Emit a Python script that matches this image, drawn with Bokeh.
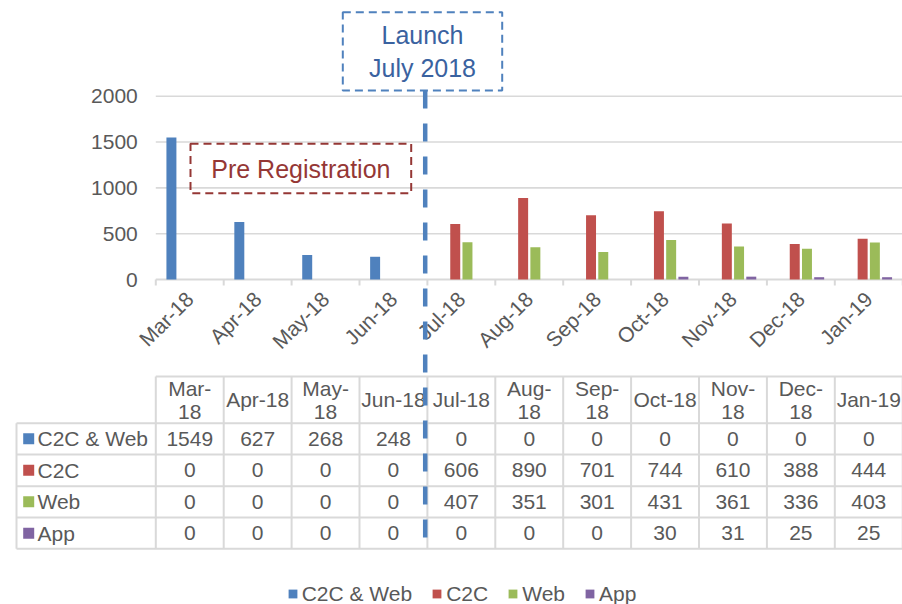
import numpy as np
from bokeh.plotting import figure
from bokeh.models import ColumnDataSource, Range1d, Legend, LegendItem
from bokeh.transform import dodge
from bokeh.core.properties import value
from bokeh.embed import file_html
from bokeh.resources import INLINE

# ---------------- data ----------------
months = ["Mar-18", "Apr-18", "May-18", "Jun-18", "Jul-18", "Aug-18",
          "Sep-18", "Oct-18", "Nov-18", "Dec-18", "Jan-19"]
header_labels = ["Mar-\n18", "Apr-18", "May-\n18", "Jun-18", "Jul-18", "Aug-\n18",
                 "Sep-\n18", "Oct-18", "Nov-\n18", "Dec-\n18", "Jan-19"]
series_names = ["C2C & Web", "C2C", "Web", "App"]
c2c_web = [1549, 627, 268, 248, 0, 0, 0, 0, 0, 0, 0]
c2c = [0, 0, 0, 0, 606, 890, 701, 744, 610, 388, 444]
web = [0, 0, 0, 0, 407, 351, 301, 431, 361, 336, 403]
app = [0, 0, 0, 0, 0, 0, 0, 30, 31, 25, 25]
y_ticks = [0, 500, 1000, 1500, 2000]
launch_text = "Launch\nJuly 2018"
pre_text = "Pre Registration"
pre_months = 4  # months before launch

# ---------------- styling / layout ----------------
colors = ["#4f81bd", "#c0504d", "#9bbb59", "#8064a2"]
FONT = value("Liberation Sans")
GREY = "#595959"
LINE = "#d9d9d9"

W, H = 902, 604
X0, Y0 = 0, 0                 # picture offset of canvas
COL_W = 67.9                  # px per month column
CHART_LEFT = 155.3            # x of first column edge
ZERO_Y, TOP_Y = 279.0, 95.7   # y of value 0 and of top tick
n = len(months)
upp = y_ticks[-1] / (ZERO_Y - TOP_Y)

x_start = -0.5 - (CHART_LEFT - X0) / COL_W
x_end = x_start + W / COL_W
y_end = y_ticks[-1] + (TOP_Y - Y0) * upp
y_start = -(Y0 + H - ZERO_Y) * upp

p = figure(width=W, height=H, x_range=Range1d(x_start, x_end),
           y_range=Range1d(y_start, y_end),
           x_axis_location=None, y_axis_location=None,
           toolbar_location=None, output_backend="svg",
           min_border=0, outline_line_color=None)
p.xgrid.visible = False
p.ygrid.visible = False
p.extra_x_ranges = {"px": Range1d(X0, X0 + W)}
p.extra_y_ranges = {"px": Range1d(Y0 + H, Y0)}

# ---------------- value gridlines, axis ----------------
grid_src = ColumnDataSource(dict(y=y_ticks[1:]))
p.segment(x0=-0.5, x1=x_end, y0="y", y1="y", source=grid_src,
          line_color=LINE, line_width=1.6)
p.segment(x0=-0.5, x1=x_end, y0=0, y1=0, line_color=LINE, line_width=2)
bounds = ColumnDataSource(dict(x=[i - 0.5 for i in range(n + 1)]))
p.segment(x0="x", x1="x", y0=ZERO_Y, y1=ZERO_Y + 6, source=bounds,
          y_range_name="px", line_color=LINE, line_width=2)

ytl = ColumnDataSource(dict(y=y_ticks, t=[str(v) for v in y_ticks]))
p.text(x=CHART_LEFT - 18, y="y", text="t", source=ytl, x_range_name="px",
       text_align="right", text_baseline="middle", text_font=FONT,
       text_font_size="21px", text_color=GREY)

xtl = ColumnDataSource(dict(x=list(range(n)), t=months))
p.text(x="x", y=ZERO_Y + 16, text="t", source=xtl, y_range_name="px",
       angle=np.pi / 4, text_align="right", text_baseline="middle",
       text_font=FONT, text_font_size="21px", text_color=GREY)

# ---------------- table ----------------
header_top = 376.0
row_edges = [422.7, 454.0, 485.7, 517.0, 548.3]
table_left = 16.0
row_centers = [(a + b) / 2 for a, b in zip(row_edges[:-1], row_edges[1:])]
header_center = (header_top + row_edges[0]) / 2

p.segment(x0=CHART_LEFT, x1=X0 + W, y0=header_top, y1=header_top,
          x_range_name="px", y_range_name="px", line_color=LINE, line_width=2)
hl = ColumnDataSource(dict(y=row_edges))
p.segment(x0=table_left, x1=X0 + W, y0="y", y1="y", source=hl,
          x_range_name="px", y_range_name="px", line_color=LINE, line_width=2)
p.segment(x0="x", x1="x", y0=header_top, y1=row_edges[-1], source=bounds,
          y_range_name="px", line_color=LINE, line_width=2)
p.segment(x0=table_left, x1=table_left, y0=row_edges[0], y1=row_edges[-1],
          x_range_name="px", y_range_name="px", line_color=LINE, line_width=2)

hdr = ColumnDataSource(dict(x=list(range(n)), t=header_labels))
p.text(x="x", y=header_center, text="t", source=hdr, y_range_name="px",
       text_align="center", text_baseline="middle", text_line_height=1.0,
       text_font=FONT, text_font_size="21px", text_color=GREY)

all_series = [c2c_web, c2c, web, app]
cx, cy, ct = [], [], []
for r, vals in enumerate(all_series):
    for i, v in enumerate(vals):
        cx.append(i)
        cy.append(row_centers[r])
        ct.append(str(v))
cells = ColumnDataSource(dict(x=cx, y=cy, t=ct))
p.text(x="x", y="y", text="t", source=cells, y_range_name="px",
       text_align="center", text_baseline="middle",
       text_font=FONT, text_font_size="21px", text_color=GREY)

rh = ColumnDataSource(dict(y=row_centers, t=series_names, c=colors))
p.scatter(x=28.2, y="y", marker="square", size=11, fill_color="c",
          line_color=None, source=rh, x_range_name="px", y_range_name="px")
p.text(x=37.0, y="y", text="t", source=rh, x_range_name="px", y_range_name="px",
       text_align="left", text_baseline="middle",
       text_font=FONT, text_font_size="21px", text_color=GREY)

# ---------------- bars ----------------
BAR_STEP, BAR_W = 0.18, 0.147
src = ColumnDataSource(dict(x=list(range(n)), s0=c2c_web, s1=c2c, s2=web, s3=app))
bar_renderers = []
for k, color in enumerate(colors):
    r = p.vbar(x=dodge("x", (k - 1.5) * BAR_STEP), top="s%d" % k, bottom=0,
               width=BAR_W, source=src, fill_color=color, line_color=None)
    bar_renderers.append(r)

# ---------------- annotations ----------------
p.quad(left=190.0, right=410.7, top=143.3, bottom=192.7,
       x_range_name="px", y_range_name="px", fill_color=None,
       line_color="#953735", line_width=2, line_dash="8 5")
p.text(x=[(190.0 + 410.7) / 2], y=[168.3], text=[pre_text],
       x_range_name="px", y_range_name="px", text_align="center",
       text_baseline="middle", text_font=FONT, text_font_size="25px",
       text_color="#953735")

p.quad(left=342.3, right=501.7, top=11.7, bottom=90.0,
       x_range_name="px", y_range_name="px", fill_color=None,
       line_color="#4f81bd", line_width=2, line_dash="8 5")
p.text(x=[(342.3 + 501.7) / 2], y=[51.0], text=[launch_text],
       x_range_name="px", y_range_name="px", text_align="center",
       text_baseline="middle", text_line_height=1.15, text_font=FONT,
       text_font_size="25px", text_color="#3a62a0")

p.segment(x0=pre_months - 0.5 - 2.2 / COL_W, x1=pre_months - 0.5 - 2.2 / COL_W,
          y0=90.0, y1=row_edges[-1], y_range_name="px",
          line_color="#4f81bd", line_width=4.5, line_dash="18 15")

# ---------------- legend ----------------
legend = Legend(items=[LegendItem(label=s, renderers=[r])
                       for s, r in zip(series_names, bar_renderers)],
                orientation="horizontal", location=(286.7, -1.5),
                glyph_width=11, glyph_height=11, label_standoff=4, spacing=19,
                padding=0, margin=0, border_line_color=None,
                background_fill_alpha=0, label_text_font="Liberation Sans",
                label_text_font_size="21px", label_text_color=GREY)
p.add_layout(legend)

open("out.html", "w").write(file_html(p, INLINE))
